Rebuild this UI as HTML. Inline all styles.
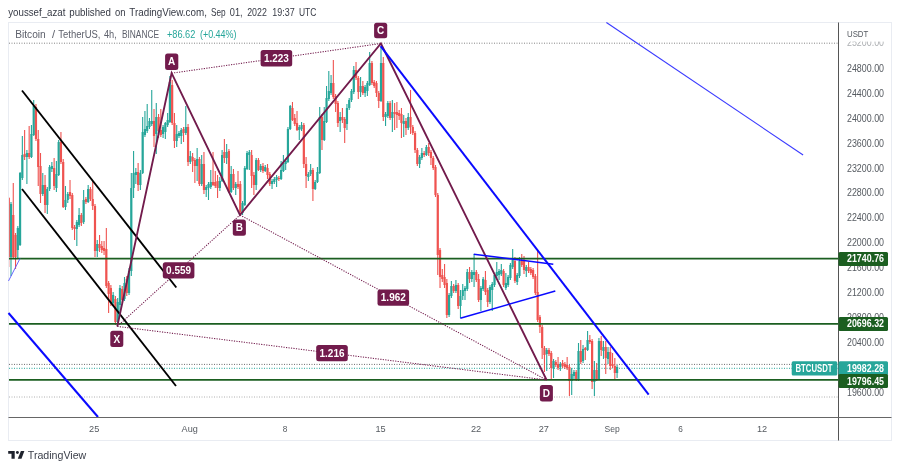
<!DOCTYPE html>
<html><head><meta charset="utf-8"><title>BTCUSDT chart</title>
<style>html,body{margin:0;padding:0;background:#fff}body{width:900px;height:470px;overflow:hidden}</style></head>
<body>
<svg width="900" height="470" viewBox="0 0 900 470" style="display:block;font-family:'Liberation Sans',sans-serif">
<rect width="900" height="470" fill="#fff"/>
<rect x="8.5" y="22.5" width="883" height="418" fill="#fff" stroke="#e9ecf2" stroke-width="1"/>
<text x="8.25" y="15.5" font-size="11" fill="#363a45" font-weight="normal" textLength="57.2" lengthAdjust="spacingAndGlyphs">youssef_azat</text>
<text x="69.3" y="15.5" font-size="11" fill="#363a45" font-weight="normal" textLength="41.6" lengthAdjust="spacingAndGlyphs">published</text>
<text x="115.1" y="15.5" font-size="11" fill="#363a45" font-weight="normal" textLength="10.5" lengthAdjust="spacingAndGlyphs">on</text>
<text x="129.3" y="15.5" font-size="11" fill="#363a45" font-weight="normal" textLength="77.6" lengthAdjust="spacingAndGlyphs">TradingView.com,</text>
<text x="210.9" y="15.5" font-size="11" fill="#363a45" font-weight="normal" textLength="14.7" lengthAdjust="spacingAndGlyphs">Sep</text>
<text x="229.8" y="15.5" font-size="11" fill="#363a45" font-weight="normal" textLength="12.8" lengthAdjust="spacingAndGlyphs">01,</text>
<text x="247.2" y="15.5" font-size="11" fill="#363a45" font-weight="normal" textLength="19.6" lengthAdjust="spacingAndGlyphs">2022</text>
<text x="272.3" y="15.5" font-size="11" fill="#363a45" font-weight="normal" textLength="22.4" lengthAdjust="spacingAndGlyphs">19:37</text>
<text x="298.9" y="15.5" font-size="11" fill="#363a45" font-weight="normal" textLength="17.4" lengthAdjust="spacingAndGlyphs">UTC</text>
<line x1="9" y1="43.2" x2="838" y2="43.2" stroke="#858585" stroke-width="1" stroke-dasharray="1 1.5" opacity="1"/>
<line x1="9" y1="364.4" x2="838" y2="364.4" stroke="#6a6a6a" stroke-width="1" stroke-dasharray="1 1.5" opacity="1"/>
<line x1="9" y1="368.3" x2="838" y2="368.3" stroke="#26a69a" stroke-width="1" stroke-dasharray="1 1.5" opacity="1"/>
<line x1="9" y1="397" x2="838" y2="397" stroke="#b0b0b0" stroke-width="1" stroke-dasharray="1 1.5" opacity="1"/>
<clipPath id="cc"><rect x="9" y="23" width="829" height="394"/></clipPath><g id="candles" clip-path="url(#cc)">
<line x1="8.73" y1="197.0" x2="8.73" y2="267.0" stroke="#ef5350" stroke-width="1.1"/>
<rect x="7.63" y="198.0" width="2.2" height="59.0" fill="#ef5350"/>
<line x1="11.00" y1="202.0" x2="11.00" y2="276.0" stroke="#26a69a" stroke-width="1.1"/>
<rect x="9.90" y="204.0" width="2.2" height="53.0" fill="#26a69a"/>
<line x1="13.27" y1="183.0" x2="13.27" y2="258.0" stroke="#ef5350" stroke-width="1.1"/>
<rect x="12.17" y="215.0" width="2.2" height="42.0" fill="#ef5350"/>
<line x1="15.54" y1="233.0" x2="15.54" y2="269.0" stroke="#ef5350" stroke-width="1.1"/>
<rect x="14.44" y="235.0" width="2.2" height="22.0" fill="#ef5350"/>
<line x1="17.81" y1="226.0" x2="17.81" y2="259.0" stroke="#26a69a" stroke-width="1.1"/>
<rect x="16.71" y="228.0" width="2.2" height="22.0" fill="#26a69a"/>
<line x1="20.08" y1="172.0" x2="20.08" y2="246.0" stroke="#26a69a" stroke-width="1.1"/>
<rect x="18.98" y="173.0" width="2.2" height="72.0" fill="#26a69a"/>
<line x1="22.35" y1="136.0" x2="22.35" y2="180.0" stroke="#26a69a" stroke-width="1.1"/>
<rect x="21.25" y="155.0" width="2.2" height="23.0" fill="#26a69a"/>
<line x1="24.62" y1="130.0" x2="24.62" y2="160.0" stroke="#ef5350" stroke-width="1.1"/>
<rect x="23.52" y="154.0" width="2.2" height="3.0" fill="#ef5350"/>
<line x1="26.89" y1="150.0" x2="26.89" y2="184.0" stroke="#26a69a" stroke-width="1.1"/>
<rect x="25.79" y="153.0" width="2.2" height="4.0" fill="#26a69a"/>
<line x1="29.16" y1="126.0" x2="29.16" y2="159.0" stroke="#ef5350" stroke-width="1.1"/>
<rect x="28.06" y="153.0" width="2.2" height="4.0" fill="#ef5350"/>
<line x1="31.43" y1="125.0" x2="31.43" y2="158.0" stroke="#26a69a" stroke-width="1.1"/>
<rect x="30.33" y="134.0" width="2.2" height="23.0" fill="#26a69a"/>
<line x1="33.70" y1="100.0" x2="33.70" y2="136.0" stroke="#26a69a" stroke-width="1.1"/>
<rect x="32.60" y="106.0" width="2.2" height="29.0" fill="#26a69a"/>
<line x1="35.97" y1="104.0" x2="35.97" y2="141.0" stroke="#ef5350" stroke-width="1.1"/>
<rect x="34.87" y="107.0" width="2.2" height="32.0" fill="#ef5350"/>
<line x1="38.24" y1="130.0" x2="38.24" y2="186.0" stroke="#ef5350" stroke-width="1.1"/>
<rect x="37.14" y="139.0" width="2.2" height="28.0" fill="#ef5350"/>
<line x1="40.51" y1="153.0" x2="40.51" y2="203.0" stroke="#ef5350" stroke-width="1.1"/>
<rect x="39.41" y="166.0" width="2.2" height="28.0" fill="#ef5350"/>
<line x1="42.78" y1="173.0" x2="42.78" y2="196.0" stroke="#26a69a" stroke-width="1.1"/>
<rect x="41.68" y="185.0" width="2.2" height="9.0" fill="#26a69a"/>
<line x1="45.05" y1="175.0" x2="45.05" y2="213.0" stroke="#ef5350" stroke-width="1.1"/>
<rect x="43.95" y="185.0" width="2.2" height="20.0" fill="#ef5350"/>
<line x1="47.32" y1="187.0" x2="47.32" y2="214.0" stroke="#26a69a" stroke-width="1.1"/>
<rect x="46.22" y="189.0" width="2.2" height="16.0" fill="#26a69a"/>
<line x1="49.59" y1="165.0" x2="49.59" y2="191.0" stroke="#26a69a" stroke-width="1.1"/>
<rect x="48.49" y="167.0" width="2.2" height="22.0" fill="#26a69a"/>
<line x1="51.86" y1="162.0" x2="51.86" y2="172.0" stroke="#26a69a" stroke-width="1.1"/>
<rect x="50.76" y="166.0" width="2.2" height="3.0" fill="#26a69a"/>
<line x1="54.13" y1="158.0" x2="54.13" y2="190.0" stroke="#ef5350" stroke-width="1.1"/>
<rect x="53.03" y="168.0" width="2.2" height="18.0" fill="#ef5350"/>
<line x1="56.40" y1="161.0" x2="56.40" y2="192.0" stroke="#26a69a" stroke-width="1.1"/>
<rect x="55.30" y="174.0" width="2.2" height="14.0" fill="#26a69a"/>
<line x1="58.67" y1="140.0" x2="58.67" y2="176.0" stroke="#26a69a" stroke-width="1.1"/>
<rect x="57.57" y="142.0" width="2.2" height="33.0" fill="#26a69a"/>
<line x1="60.94" y1="132.0" x2="60.94" y2="164.0" stroke="#ef5350" stroke-width="1.1"/>
<rect x="59.84" y="142.0" width="2.2" height="20.0" fill="#ef5350"/>
<line x1="63.21" y1="159.0" x2="63.21" y2="208.0" stroke="#ef5350" stroke-width="1.1"/>
<rect x="62.11" y="162.0" width="2.2" height="45.0" fill="#ef5350"/>
<line x1="65.48" y1="186.0" x2="65.48" y2="210.0" stroke="#26a69a" stroke-width="1.1"/>
<rect x="64.38" y="200.0" width="2.2" height="7.0" fill="#26a69a"/>
<line x1="67.75" y1="192.0" x2="67.75" y2="203.0" stroke="#26a69a" stroke-width="1.1"/>
<rect x="66.65" y="194.0" width="2.2" height="6.0" fill="#26a69a"/>
<line x1="70.02" y1="180.0" x2="70.02" y2="199.0" stroke="#ef5350" stroke-width="1.1"/>
<rect x="68.92" y="192.0" width="2.2" height="4.0" fill="#ef5350"/>
<line x1="72.29" y1="193.0" x2="72.29" y2="230.0" stroke="#ef5350" stroke-width="1.1"/>
<rect x="71.19" y="195.0" width="2.2" height="33.0" fill="#ef5350"/>
<line x1="74.56" y1="225.0" x2="74.56" y2="240.0" stroke="#ef5350" stroke-width="1.1"/>
<rect x="73.46" y="227.0" width="2.2" height="2.0" fill="#ef5350"/>
<line x1="76.83" y1="220.0" x2="76.83" y2="246.0" stroke="#26a69a" stroke-width="1.1"/>
<rect x="75.73" y="222.0" width="2.2" height="7.0" fill="#26a69a"/>
<line x1="79.10" y1="208.0" x2="79.10" y2="227.0" stroke="#26a69a" stroke-width="1.1"/>
<rect x="78.00" y="215.0" width="2.2" height="10.0" fill="#26a69a"/>
<line x1="81.37" y1="213.0" x2="81.37" y2="226.0" stroke="#ef5350" stroke-width="1.1"/>
<rect x="80.27" y="215.0" width="2.2" height="8.0" fill="#ef5350"/>
<line x1="83.64" y1="190.0" x2="83.64" y2="224.0" stroke="#26a69a" stroke-width="1.1"/>
<rect x="82.54" y="200.0" width="2.2" height="22.0" fill="#26a69a"/>
<line x1="85.91" y1="197.0" x2="85.91" y2="204.0" stroke="#ef5350" stroke-width="1.1"/>
<rect x="84.81" y="199.0" width="2.2" height="3.0" fill="#ef5350"/>
<line x1="88.18" y1="185.0" x2="88.18" y2="203.0" stroke="#26a69a" stroke-width="1.1"/>
<rect x="87.08" y="189.0" width="2.2" height="13.0" fill="#26a69a"/>
<line x1="90.45" y1="187.0" x2="90.45" y2="201.0" stroke="#ef5350" stroke-width="1.1"/>
<rect x="89.35" y="189.0" width="2.2" height="10.0" fill="#ef5350"/>
<line x1="92.72" y1="181.0" x2="92.72" y2="210.0" stroke="#ef5350" stroke-width="1.1"/>
<rect x="91.62" y="199.0" width="2.2" height="7.0" fill="#ef5350"/>
<line x1="94.99" y1="204.0" x2="94.99" y2="257.0" stroke="#ef5350" stroke-width="1.1"/>
<rect x="93.89" y="206.0" width="2.2" height="45.0" fill="#ef5350"/>
<line x1="97.26" y1="240.0" x2="97.26" y2="257.0" stroke="#26a69a" stroke-width="1.1"/>
<rect x="96.16" y="244.0" width="2.2" height="7.0" fill="#26a69a"/>
<line x1="99.53" y1="235.0" x2="99.53" y2="252.0" stroke="#ef5350" stroke-width="1.1"/>
<rect x="98.43" y="244.0" width="2.2" height="4.0" fill="#ef5350"/>
<line x1="101.80" y1="241.0" x2="101.80" y2="253.0" stroke="#ef5350" stroke-width="1.1"/>
<rect x="100.70" y="246.0" width="2.2" height="4.0" fill="#ef5350"/>
<line x1="104.07" y1="241.0" x2="104.07" y2="255.0" stroke="#ef5350" stroke-width="1.1"/>
<rect x="102.97" y="248.0" width="2.2" height="3.0" fill="#ef5350"/>
<line x1="106.34" y1="228.0" x2="106.34" y2="288.0" stroke="#ef5350" stroke-width="1.1"/>
<rect x="105.24" y="249.0" width="2.2" height="37.0" fill="#ef5350"/>
<line x1="108.61" y1="281.0" x2="108.61" y2="313.0" stroke="#ef5350" stroke-width="1.1"/>
<rect x="107.51" y="283.0" width="2.2" height="11.0" fill="#ef5350"/>
<line x1="110.88" y1="285.0" x2="110.88" y2="306.0" stroke="#ef5350" stroke-width="1.1"/>
<rect x="109.78" y="288.0" width="2.2" height="15.0" fill="#ef5350"/>
<line x1="113.15" y1="292.0" x2="113.15" y2="306.0" stroke="#26a69a" stroke-width="1.1"/>
<rect x="112.05" y="295.0" width="2.2" height="8.0" fill="#26a69a"/>
<line x1="115.42" y1="296.0" x2="115.42" y2="325.0" stroke="#ef5350" stroke-width="1.1"/>
<rect x="114.32" y="299.0" width="2.2" height="23.0" fill="#ef5350"/>
<line x1="117.69" y1="298.0" x2="117.69" y2="324.0" stroke="#26a69a" stroke-width="1.1"/>
<rect x="116.59" y="302.0" width="2.2" height="20.0" fill="#26a69a"/>
<line x1="119.96" y1="285.0" x2="119.96" y2="313.0" stroke="#26a69a" stroke-width="1.1"/>
<rect x="118.86" y="288.0" width="2.2" height="17.0" fill="#26a69a"/>
<line x1="122.23" y1="286.0" x2="122.23" y2="303.0" stroke="#ef5350" stroke-width="1.1"/>
<rect x="121.13" y="289.0" width="2.2" height="11.0" fill="#ef5350"/>
<line x1="124.50" y1="277.0" x2="124.50" y2="301.0" stroke="#26a69a" stroke-width="1.1"/>
<rect x="123.40" y="283.0" width="2.2" height="16.0" fill="#26a69a"/>
<line x1="126.77" y1="276.0" x2="126.77" y2="296.0" stroke="#ef5350" stroke-width="1.1"/>
<rect x="125.67" y="279.0" width="2.2" height="14.0" fill="#ef5350"/>
<line x1="129.04" y1="268.0" x2="129.04" y2="295.0" stroke="#26a69a" stroke-width="1.1"/>
<rect x="127.94" y="271.0" width="2.2" height="22.0" fill="#26a69a"/>
<line x1="131.31" y1="173.0" x2="131.31" y2="276.0" stroke="#26a69a" stroke-width="1.1"/>
<rect x="130.21" y="188.0" width="2.2" height="83.0" fill="#26a69a"/>
<line x1="133.58" y1="151.0" x2="133.58" y2="198.0" stroke="#26a69a" stroke-width="1.1"/>
<rect x="132.48" y="173.0" width="2.2" height="15.0" fill="#26a69a"/>
<line x1="135.85" y1="168.0" x2="135.85" y2="184.0" stroke="#26a69a" stroke-width="1.1"/>
<rect x="134.75" y="172.0" width="2.2" height="3.0" fill="#26a69a"/>
<line x1="138.12" y1="163.0" x2="138.12" y2="191.0" stroke="#ef5350" stroke-width="1.1"/>
<rect x="137.02" y="172.0" width="2.2" height="13.0" fill="#ef5350"/>
<line x1="140.39" y1="170.0" x2="140.39" y2="190.0" stroke="#26a69a" stroke-width="1.1"/>
<rect x="139.29" y="173.0" width="2.2" height="12.0" fill="#26a69a"/>
<line x1="142.66" y1="117.0" x2="142.66" y2="174.0" stroke="#26a69a" stroke-width="1.1"/>
<rect x="141.56" y="132.0" width="2.2" height="41.0" fill="#26a69a"/>
<line x1="144.93" y1="111.0" x2="144.93" y2="137.0" stroke="#26a69a" stroke-width="1.1"/>
<rect x="143.83" y="129.0" width="2.2" height="6.0" fill="#26a69a"/>
<line x1="147.20" y1="104.0" x2="147.20" y2="133.0" stroke="#26a69a" stroke-width="1.1"/>
<rect x="146.10" y="126.0" width="2.2" height="5.0" fill="#26a69a"/>
<line x1="149.47" y1="118.0" x2="149.47" y2="129.0" stroke="#26a69a" stroke-width="1.1"/>
<rect x="148.37" y="121.0" width="2.2" height="6.0" fill="#26a69a"/>
<line x1="151.74" y1="90.0" x2="151.74" y2="126.0" stroke="#26a69a" stroke-width="1.1"/>
<rect x="150.64" y="121.0" width="2.2" height="3.0" fill="#26a69a"/>
<line x1="154.01" y1="109.0" x2="154.01" y2="147.0" stroke="#ef5350" stroke-width="1.1"/>
<rect x="152.91" y="121.0" width="2.2" height="15.0" fill="#ef5350"/>
<line x1="156.28" y1="103.0" x2="156.28" y2="154.0" stroke="#26a69a" stroke-width="1.1"/>
<rect x="155.18" y="117.0" width="2.2" height="17.0" fill="#26a69a"/>
<line x1="158.55" y1="114.0" x2="158.55" y2="138.0" stroke="#ef5350" stroke-width="1.1"/>
<rect x="157.45" y="117.0" width="2.2" height="14.0" fill="#ef5350"/>
<line x1="160.82" y1="109.0" x2="160.82" y2="137.0" stroke="#ef5350" stroke-width="1.1"/>
<rect x="159.72" y="130.0" width="2.2" height="5.0" fill="#ef5350"/>
<line x1="163.09" y1="125.0" x2="163.09" y2="138.0" stroke="#26a69a" stroke-width="1.1"/>
<rect x="161.99" y="127.0" width="2.2" height="7.0" fill="#26a69a"/>
<line x1="165.36" y1="122.0" x2="165.36" y2="139.0" stroke="#26a69a" stroke-width="1.1"/>
<rect x="164.26" y="123.0" width="2.2" height="9.0" fill="#26a69a"/>
<line x1="167.63" y1="113.0" x2="167.63" y2="127.0" stroke="#26a69a" stroke-width="1.1"/>
<rect x="166.53" y="120.0" width="2.2" height="5.0" fill="#26a69a"/>
<line x1="169.90" y1="76.0" x2="169.90" y2="123.0" stroke="#26a69a" stroke-width="1.1"/>
<rect x="168.80" y="82.0" width="2.2" height="40.0" fill="#26a69a"/>
<line x1="172.17" y1="80.0" x2="172.17" y2="125.0" stroke="#ef5350" stroke-width="1.1"/>
<rect x="171.07" y="85.0" width="2.2" height="38.0" fill="#ef5350"/>
<line x1="174.44" y1="113.0" x2="174.44" y2="148.0" stroke="#ef5350" stroke-width="1.1"/>
<rect x="173.34" y="123.0" width="2.2" height="18.0" fill="#ef5350"/>
<line x1="176.71" y1="125.0" x2="176.71" y2="147.0" stroke="#26a69a" stroke-width="1.1"/>
<rect x="175.61" y="134.0" width="2.2" height="7.0" fill="#26a69a"/>
<line x1="178.98" y1="131.0" x2="178.98" y2="138.0" stroke="#26a69a" stroke-width="1.1"/>
<rect x="177.88" y="133.0" width="2.2" height="3.0" fill="#26a69a"/>
<line x1="181.25" y1="128.0" x2="181.25" y2="144.0" stroke="#26a69a" stroke-width="1.1"/>
<rect x="180.15" y="130.0" width="2.2" height="6.0" fill="#26a69a"/>
<line x1="183.52" y1="127.0" x2="183.52" y2="142.0" stroke="#ef5350" stroke-width="1.1"/>
<rect x="182.42" y="129.0" width="2.2" height="4.0" fill="#ef5350"/>
<line x1="185.79" y1="106.0" x2="185.79" y2="135.0" stroke="#26a69a" stroke-width="1.1"/>
<rect x="184.69" y="127.0" width="2.2" height="6.0" fill="#26a69a"/>
<line x1="188.06" y1="124.0" x2="188.06" y2="166.0" stroke="#ef5350" stroke-width="1.1"/>
<rect x="186.96" y="127.0" width="2.2" height="35.0" fill="#ef5350"/>
<line x1="190.33" y1="151.0" x2="190.33" y2="164.0" stroke="#26a69a" stroke-width="1.1"/>
<rect x="189.23" y="156.0" width="2.2" height="6.0" fill="#26a69a"/>
<line x1="192.60" y1="153.0" x2="192.60" y2="172.0" stroke="#ef5350" stroke-width="1.1"/>
<rect x="191.50" y="157.0" width="2.2" height="4.0" fill="#ef5350"/>
<line x1="194.87" y1="158.0" x2="194.87" y2="183.0" stroke="#ef5350" stroke-width="1.1"/>
<rect x="193.77" y="160.0" width="2.2" height="6.0" fill="#ef5350"/>
<line x1="197.14" y1="148.0" x2="197.14" y2="181.0" stroke="#26a69a" stroke-width="1.1"/>
<rect x="196.04" y="159.0" width="2.2" height="7.0" fill="#26a69a"/>
<line x1="199.41" y1="157.0" x2="199.41" y2="186.0" stroke="#ef5350" stroke-width="1.1"/>
<rect x="198.31" y="159.0" width="2.2" height="25.0" fill="#ef5350"/>
<line x1="201.68" y1="155.0" x2="201.68" y2="186.0" stroke="#26a69a" stroke-width="1.1"/>
<rect x="200.58" y="164.0" width="2.2" height="20.0" fill="#26a69a"/>
<line x1="203.95" y1="152.0" x2="203.95" y2="194.0" stroke="#ef5350" stroke-width="1.1"/>
<rect x="202.85" y="164.0" width="2.2" height="26.0" fill="#ef5350"/>
<line x1="206.22" y1="185.0" x2="206.22" y2="197.0" stroke="#26a69a" stroke-width="1.1"/>
<rect x="205.12" y="187.0" width="2.2" height="3.0" fill="#26a69a"/>
<line x1="208.49" y1="182.0" x2="208.49" y2="200.0" stroke="#26a69a" stroke-width="1.1"/>
<rect x="207.39" y="184.0" width="2.2" height="4.0" fill="#26a69a"/>
<line x1="210.76" y1="170.0" x2="210.76" y2="189.0" stroke="#26a69a" stroke-width="1.1"/>
<rect x="209.66" y="182.0" width="2.2" height="5.0" fill="#26a69a"/>
<line x1="213.03" y1="152.0" x2="213.03" y2="186.0" stroke="#ef5350" stroke-width="1.1"/>
<rect x="211.93" y="182.0" width="2.2" height="3.0" fill="#ef5350"/>
<line x1="215.30" y1="171.0" x2="215.30" y2="188.0" stroke="#ef5350" stroke-width="1.1"/>
<rect x="214.20" y="182.0" width="2.2" height="4.0" fill="#ef5350"/>
<line x1="217.57" y1="175.0" x2="217.57" y2="198.0" stroke="#ef5350" stroke-width="1.1"/>
<rect x="216.47" y="181.0" width="2.2" height="7.0" fill="#ef5350"/>
<line x1="219.84" y1="177.0" x2="219.84" y2="191.0" stroke="#26a69a" stroke-width="1.1"/>
<rect x="218.74" y="181.0" width="2.2" height="7.0" fill="#26a69a"/>
<line x1="222.11" y1="150.0" x2="222.11" y2="182.0" stroke="#26a69a" stroke-width="1.1"/>
<rect x="221.01" y="155.0" width="2.2" height="26.0" fill="#26a69a"/>
<line x1="224.38" y1="139.0" x2="224.38" y2="163.0" stroke="#ef5350" stroke-width="1.1"/>
<rect x="223.28" y="152.0" width="2.2" height="6.0" fill="#ef5350"/>
<line x1="226.65" y1="144.0" x2="226.65" y2="164.0" stroke="#26a69a" stroke-width="1.1"/>
<rect x="225.55" y="152.0" width="2.2" height="6.0" fill="#26a69a"/>
<line x1="228.92" y1="149.0" x2="228.92" y2="193.0" stroke="#ef5350" stroke-width="1.1"/>
<rect x="227.82" y="151.0" width="2.2" height="41.0" fill="#ef5350"/>
<line x1="231.19" y1="166.0" x2="231.19" y2="193.0" stroke="#26a69a" stroke-width="1.1"/>
<rect x="230.09" y="174.0" width="2.2" height="18.0" fill="#26a69a"/>
<line x1="233.46" y1="169.0" x2="233.46" y2="190.0" stroke="#ef5350" stroke-width="1.1"/>
<rect x="232.36" y="174.0" width="2.2" height="14.0" fill="#ef5350"/>
<line x1="235.73" y1="182.0" x2="235.73" y2="195.0" stroke="#26a69a" stroke-width="1.1"/>
<rect x="234.63" y="184.0" width="2.2" height="4.0" fill="#26a69a"/>
<line x1="238.00" y1="171.0" x2="238.00" y2="189.0" stroke="#ef5350" stroke-width="1.1"/>
<rect x="236.90" y="184.0" width="2.2" height="3.0" fill="#ef5350"/>
<line x1="240.27" y1="181.0" x2="240.27" y2="215.0" stroke="#ef5350" stroke-width="1.1"/>
<rect x="239.17" y="184.0" width="2.2" height="28.0" fill="#ef5350"/>
<line x1="242.54" y1="201.0" x2="242.54" y2="215.0" stroke="#26a69a" stroke-width="1.1"/>
<rect x="241.44" y="203.0" width="2.2" height="10.0" fill="#26a69a"/>
<line x1="244.81" y1="166.0" x2="244.81" y2="206.0" stroke="#26a69a" stroke-width="1.1"/>
<rect x="243.71" y="168.0" width="2.2" height="37.0" fill="#26a69a"/>
<line x1="247.08" y1="151.0" x2="247.08" y2="170.0" stroke="#26a69a" stroke-width="1.1"/>
<rect x="245.98" y="153.0" width="2.2" height="16.0" fill="#26a69a"/>
<line x1="249.35" y1="150.0" x2="249.35" y2="170.0" stroke="#26a69a" stroke-width="1.1"/>
<rect x="248.25" y="152.0" width="2.2" height="3.0" fill="#26a69a"/>
<line x1="251.62" y1="150.0" x2="251.62" y2="188.0" stroke="#ef5350" stroke-width="1.1"/>
<rect x="250.52" y="155.0" width="2.2" height="21.0" fill="#ef5350"/>
<line x1="253.89" y1="172.0" x2="253.89" y2="195.0" stroke="#ef5350" stroke-width="1.1"/>
<rect x="252.79" y="175.0" width="2.2" height="10.0" fill="#ef5350"/>
<line x1="256.16" y1="158.0" x2="256.16" y2="190.0" stroke="#26a69a" stroke-width="1.1"/>
<rect x="255.06" y="160.0" width="2.2" height="25.0" fill="#26a69a"/>
<line x1="258.43" y1="158.0" x2="258.43" y2="171.0" stroke="#ef5350" stroke-width="1.1"/>
<rect x="257.33" y="160.0" width="2.2" height="10.0" fill="#ef5350"/>
<line x1="260.70" y1="164.0" x2="260.70" y2="172.0" stroke="#26a69a" stroke-width="1.1"/>
<rect x="259.60" y="166.0" width="2.2" height="4.0" fill="#26a69a"/>
<line x1="262.97" y1="163.0" x2="262.97" y2="173.0" stroke="#ef5350" stroke-width="1.1"/>
<rect x="261.87" y="166.0" width="2.2" height="5.0" fill="#ef5350"/>
<line x1="265.24" y1="165.0" x2="265.24" y2="172.0" stroke="#26a69a" stroke-width="1.1"/>
<rect x="264.14" y="167.0" width="2.2" height="4.0" fill="#26a69a"/>
<line x1="267.51" y1="164.0" x2="267.51" y2="179.0" stroke="#ef5350" stroke-width="1.1"/>
<rect x="266.41" y="168.0" width="2.2" height="7.0" fill="#ef5350"/>
<line x1="269.78" y1="172.0" x2="269.78" y2="186.0" stroke="#ef5350" stroke-width="1.1"/>
<rect x="268.68" y="174.0" width="2.2" height="10.0" fill="#ef5350"/>
<line x1="272.05" y1="179.0" x2="272.05" y2="189.0" stroke="#26a69a" stroke-width="1.1"/>
<rect x="270.95" y="181.0" width="2.2" height="3.0" fill="#26a69a"/>
<line x1="274.32" y1="177.0" x2="274.32" y2="184.0" stroke="#26a69a" stroke-width="1.1"/>
<rect x="273.22" y="179.0" width="2.2" height="3.0" fill="#26a69a"/>
<line x1="276.59" y1="175.0" x2="276.59" y2="187.0" stroke="#26a69a" stroke-width="1.1"/>
<rect x="275.49" y="177.0" width="2.2" height="3.0" fill="#26a69a"/>
<line x1="278.86" y1="176.0" x2="278.86" y2="181.0" stroke="#ef5350" stroke-width="1.1"/>
<rect x="277.76" y="178.0" width="2.2" height="1.0" fill="#ef5350"/>
<line x1="281.13" y1="161.0" x2="281.13" y2="180.0" stroke="#26a69a" stroke-width="1.1"/>
<rect x="280.03" y="170.0" width="2.2" height="9.0" fill="#26a69a"/>
<line x1="283.40" y1="155.0" x2="283.40" y2="172.0" stroke="#26a69a" stroke-width="1.1"/>
<rect x="282.30" y="163.0" width="2.2" height="8.0" fill="#26a69a"/>
<line x1="285.67" y1="159.0" x2="285.67" y2="170.0" stroke="#26a69a" stroke-width="1.1"/>
<rect x="284.57" y="161.0" width="2.2" height="3.0" fill="#26a69a"/>
<line x1="287.94" y1="127.0" x2="287.94" y2="163.0" stroke="#26a69a" stroke-width="1.1"/>
<rect x="286.84" y="129.0" width="2.2" height="33.0" fill="#26a69a"/>
<line x1="290.21" y1="105.0" x2="290.21" y2="130.0" stroke="#26a69a" stroke-width="1.1"/>
<rect x="289.11" y="106.0" width="2.2" height="23.0" fill="#26a69a"/>
<line x1="292.48" y1="102.0" x2="292.48" y2="121.0" stroke="#ef5350" stroke-width="1.1"/>
<rect x="291.38" y="108.0" width="2.2" height="12.0" fill="#ef5350"/>
<line x1="294.75" y1="114.0" x2="294.75" y2="126.0" stroke="#ef5350" stroke-width="1.1"/>
<rect x="293.65" y="118.0" width="2.2" height="6.0" fill="#ef5350"/>
<line x1="297.02" y1="111.0" x2="297.02" y2="131.0" stroke="#ef5350" stroke-width="1.1"/>
<rect x="295.92" y="123.0" width="2.2" height="7.0" fill="#ef5350"/>
<line x1="299.29" y1="125.0" x2="299.29" y2="140.0" stroke="#26a69a" stroke-width="1.1"/>
<rect x="298.19" y="127.0" width="2.2" height="3.0" fill="#26a69a"/>
<line x1="301.56" y1="122.0" x2="301.56" y2="131.0" stroke="#26a69a" stroke-width="1.1"/>
<rect x="300.46" y="125.0" width="2.2" height="4.0" fill="#26a69a"/>
<line x1="303.83" y1="123.0" x2="303.83" y2="168.0" stroke="#ef5350" stroke-width="1.1"/>
<rect x="302.73" y="125.0" width="2.2" height="39.0" fill="#ef5350"/>
<line x1="306.10" y1="157.0" x2="306.10" y2="188.0" stroke="#ef5350" stroke-width="1.1"/>
<rect x="305.00" y="164.0" width="2.2" height="12.0" fill="#ef5350"/>
<line x1="308.37" y1="172.0" x2="308.37" y2="181.0" stroke="#26a69a" stroke-width="1.1"/>
<rect x="307.27" y="174.0" width="2.2" height="3.0" fill="#26a69a"/>
<line x1="310.64" y1="164.0" x2="310.64" y2="176.0" stroke="#26a69a" stroke-width="1.1"/>
<rect x="309.54" y="170.0" width="2.2" height="4.0" fill="#26a69a"/>
<line x1="312.91" y1="168.0" x2="312.91" y2="201.0" stroke="#ef5350" stroke-width="1.1"/>
<rect x="311.81" y="170.0" width="2.2" height="19.0" fill="#ef5350"/>
<line x1="315.18" y1="180.0" x2="315.18" y2="190.0" stroke="#26a69a" stroke-width="1.1"/>
<rect x="314.08" y="182.0" width="2.2" height="7.0" fill="#26a69a"/>
<line x1="317.45" y1="167.0" x2="317.45" y2="183.0" stroke="#26a69a" stroke-width="1.1"/>
<rect x="316.35" y="172.0" width="2.2" height="10.0" fill="#26a69a"/>
<line x1="319.72" y1="107.0" x2="319.72" y2="174.0" stroke="#26a69a" stroke-width="1.1"/>
<rect x="318.62" y="117.0" width="2.2" height="56.0" fill="#26a69a"/>
<line x1="321.99" y1="114.0" x2="321.99" y2="150.0" stroke="#ef5350" stroke-width="1.1"/>
<rect x="320.89" y="117.0" width="2.2" height="23.0" fill="#ef5350"/>
<line x1="324.26" y1="107.0" x2="324.26" y2="141.0" stroke="#26a69a" stroke-width="1.1"/>
<rect x="323.16" y="121.0" width="2.2" height="19.0" fill="#26a69a"/>
<line x1="326.53" y1="86.0" x2="326.53" y2="123.0" stroke="#26a69a" stroke-width="1.1"/>
<rect x="325.43" y="98.0" width="2.2" height="24.0" fill="#26a69a"/>
<line x1="328.80" y1="71.0" x2="328.80" y2="101.0" stroke="#26a69a" stroke-width="1.1"/>
<rect x="327.70" y="91.0" width="2.2" height="8.0" fill="#26a69a"/>
<line x1="331.07" y1="75.0" x2="331.07" y2="95.0" stroke="#26a69a" stroke-width="1.1"/>
<rect x="329.97" y="83.0" width="2.2" height="10.0" fill="#26a69a"/>
<line x1="333.34" y1="60.0" x2="333.34" y2="99.0" stroke="#ef5350" stroke-width="1.1"/>
<rect x="332.24" y="83.0" width="2.2" height="14.0" fill="#ef5350"/>
<line x1="335.61" y1="94.0" x2="335.61" y2="112.0" stroke="#ef5350" stroke-width="1.1"/>
<rect x="334.51" y="96.0" width="2.2" height="8.0" fill="#ef5350"/>
<line x1="337.88" y1="101.0" x2="337.88" y2="127.0" stroke="#ef5350" stroke-width="1.1"/>
<rect x="336.78" y="103.0" width="2.2" height="20.0" fill="#ef5350"/>
<line x1="340.15" y1="112.0" x2="340.15" y2="132.0" stroke="#26a69a" stroke-width="1.1"/>
<rect x="339.05" y="117.0" width="2.2" height="4.0" fill="#26a69a"/>
<line x1="342.42" y1="108.0" x2="342.42" y2="123.0" stroke="#ef5350" stroke-width="1.1"/>
<rect x="341.32" y="117.0" width="2.2" height="3.0" fill="#ef5350"/>
<line x1="344.69" y1="117.0" x2="344.69" y2="143.0" stroke="#ef5350" stroke-width="1.1"/>
<rect x="343.59" y="119.0" width="2.2" height="9.0" fill="#ef5350"/>
<line x1="346.96" y1="104.0" x2="346.96" y2="130.0" stroke="#26a69a" stroke-width="1.1"/>
<rect x="345.86" y="108.0" width="2.2" height="16.0" fill="#26a69a"/>
<line x1="349.23" y1="98.0" x2="349.23" y2="110.0" stroke="#26a69a" stroke-width="1.1"/>
<rect x="348.13" y="100.0" width="2.2" height="8.0" fill="#26a69a"/>
<line x1="351.50" y1="89.0" x2="351.50" y2="102.0" stroke="#26a69a" stroke-width="1.1"/>
<rect x="350.40" y="91.0" width="2.2" height="9.0" fill="#26a69a"/>
<line x1="353.77" y1="66.0" x2="353.77" y2="94.0" stroke="#26a69a" stroke-width="1.1"/>
<rect x="352.67" y="70.0" width="2.2" height="22.0" fill="#26a69a"/>
<line x1="356.04" y1="62.0" x2="356.04" y2="80.0" stroke="#ef5350" stroke-width="1.1"/>
<rect x="354.94" y="70.0" width="2.2" height="8.0" fill="#ef5350"/>
<line x1="358.31" y1="76.0" x2="358.31" y2="99.0" stroke="#ef5350" stroke-width="1.1"/>
<rect x="357.21" y="78.0" width="2.2" height="14.0" fill="#ef5350"/>
<line x1="360.58" y1="77.0" x2="360.58" y2="97.0" stroke="#26a69a" stroke-width="1.1"/>
<rect x="359.48" y="86.0" width="2.2" height="6.0" fill="#26a69a"/>
<line x1="362.85" y1="81.0" x2="362.85" y2="95.0" stroke="#ef5350" stroke-width="1.1"/>
<rect x="361.75" y="86.0" width="2.2" height="7.0" fill="#ef5350"/>
<line x1="365.12" y1="85.0" x2="365.12" y2="97.0" stroke="#26a69a" stroke-width="1.1"/>
<rect x="364.02" y="87.0" width="2.2" height="6.0" fill="#26a69a"/>
<line x1="367.39" y1="81.0" x2="367.39" y2="96.0" stroke="#26a69a" stroke-width="1.1"/>
<rect x="366.29" y="83.0" width="2.2" height="8.0" fill="#26a69a"/>
<line x1="369.66" y1="52.0" x2="369.66" y2="86.0" stroke="#26a69a" stroke-width="1.1"/>
<rect x="368.56" y="63.0" width="2.2" height="22.0" fill="#26a69a"/>
<line x1="371.93" y1="61.0" x2="371.93" y2="85.0" stroke="#ef5350" stroke-width="1.1"/>
<rect x="370.83" y="63.0" width="2.2" height="20.0" fill="#ef5350"/>
<line x1="374.20" y1="80.0" x2="374.20" y2="88.0" stroke="#ef5350" stroke-width="1.1"/>
<rect x="373.10" y="82.0" width="2.2" height="4.0" fill="#ef5350"/>
<line x1="376.47" y1="81.0" x2="376.47" y2="97.0" stroke="#ef5350" stroke-width="1.1"/>
<rect x="375.37" y="83.0" width="2.2" height="10.0" fill="#ef5350"/>
<line x1="378.74" y1="91.0" x2="378.74" y2="108.0" stroke="#ef5350" stroke-width="1.1"/>
<rect x="377.64" y="93.0" width="2.2" height="8.0" fill="#ef5350"/>
<line x1="381.01" y1="47.0" x2="381.01" y2="102.0" stroke="#26a69a" stroke-width="1.1"/>
<rect x="379.91" y="63.0" width="2.2" height="38.0" fill="#26a69a"/>
<line x1="383.28" y1="57.0" x2="383.28" y2="121.0" stroke="#ef5350" stroke-width="1.1"/>
<rect x="382.18" y="63.0" width="2.2" height="54.0" fill="#ef5350"/>
<line x1="385.55" y1="112.0" x2="385.55" y2="126.0" stroke="#26a69a" stroke-width="1.1"/>
<rect x="384.45" y="114.0" width="2.2" height="3.0" fill="#26a69a"/>
<line x1="387.82" y1="101.0" x2="387.82" y2="118.0" stroke="#26a69a" stroke-width="1.1"/>
<rect x="386.72" y="103.0" width="2.2" height="13.0" fill="#26a69a"/>
<line x1="390.09" y1="101.0" x2="390.09" y2="120.0" stroke="#ef5350" stroke-width="1.1"/>
<rect x="388.99" y="103.0" width="2.2" height="15.0" fill="#ef5350"/>
<line x1="392.36" y1="100.0" x2="392.36" y2="132.0" stroke="#26a69a" stroke-width="1.1"/>
<rect x="391.26" y="112.0" width="2.2" height="6.0" fill="#26a69a"/>
<line x1="394.63" y1="103.0" x2="394.63" y2="130.0" stroke="#ef5350" stroke-width="1.1"/>
<rect x="393.53" y="112.0" width="2.2" height="2.0" fill="#ef5350"/>
<line x1="396.90" y1="102.0" x2="396.90" y2="128.0" stroke="#ef5350" stroke-width="1.1"/>
<rect x="395.80" y="112.0" width="2.2" height="3.0" fill="#ef5350"/>
<line x1="399.17" y1="110.0" x2="399.17" y2="120.0" stroke="#ef5350" stroke-width="1.1"/>
<rect x="398.07" y="113.0" width="2.2" height="3.0" fill="#ef5350"/>
<line x1="401.44" y1="108.0" x2="401.44" y2="138.0" stroke="#ef5350" stroke-width="1.1"/>
<rect x="400.34" y="114.0" width="2.2" height="9.0" fill="#ef5350"/>
<line x1="403.71" y1="115.0" x2="403.71" y2="137.0" stroke="#26a69a" stroke-width="1.1"/>
<rect x="402.61" y="121.0" width="2.2" height="3.0" fill="#26a69a"/>
<line x1="405.98" y1="118.0" x2="405.98" y2="135.0" stroke="#ef5350" stroke-width="1.1"/>
<rect x="404.88" y="121.0" width="2.2" height="7.0" fill="#ef5350"/>
<line x1="408.25" y1="113.0" x2="408.25" y2="130.0" stroke="#26a69a" stroke-width="1.1"/>
<rect x="407.15" y="117.0" width="2.2" height="11.0" fill="#26a69a"/>
<line x1="410.52" y1="90.0" x2="410.52" y2="134.0" stroke="#ef5350" stroke-width="1.1"/>
<rect x="409.42" y="117.0" width="2.2" height="10.0" fill="#ef5350"/>
<line x1="412.79" y1="125.0" x2="412.79" y2="135.0" stroke="#ef5350" stroke-width="1.1"/>
<rect x="411.69" y="127.0" width="2.2" height="6.0" fill="#ef5350"/>
<line x1="415.06" y1="131.0" x2="415.06" y2="153.0" stroke="#ef5350" stroke-width="1.1"/>
<rect x="413.96" y="133.0" width="2.2" height="17.0" fill="#ef5350"/>
<line x1="417.33" y1="148.0" x2="417.33" y2="166.0" stroke="#ef5350" stroke-width="1.1"/>
<rect x="416.23" y="150.0" width="2.2" height="14.0" fill="#ef5350"/>
<line x1="419.60" y1="155.0" x2="419.60" y2="168.0" stroke="#26a69a" stroke-width="1.1"/>
<rect x="418.50" y="157.0" width="2.2" height="7.0" fill="#26a69a"/>
<line x1="421.87" y1="148.0" x2="421.87" y2="160.0" stroke="#26a69a" stroke-width="1.1"/>
<rect x="420.77" y="153.0" width="2.2" height="5.0" fill="#26a69a"/>
<line x1="424.14" y1="151.0" x2="424.14" y2="157.0" stroke="#ef5350" stroke-width="1.1"/>
<rect x="423.04" y="153.0" width="2.2" height="2.0" fill="#ef5350"/>
<line x1="426.41" y1="145.0" x2="426.41" y2="156.0" stroke="#26a69a" stroke-width="1.1"/>
<rect x="425.31" y="147.0" width="2.2" height="8.0" fill="#26a69a"/>
<line x1="428.68" y1="143.0" x2="428.68" y2="156.0" stroke="#ef5350" stroke-width="1.1"/>
<rect x="427.58" y="147.0" width="2.2" height="6.0" fill="#ef5350"/>
<line x1="430.95" y1="150.0" x2="430.95" y2="165.0" stroke="#ef5350" stroke-width="1.1"/>
<rect x="429.85" y="152.0" width="2.2" height="6.0" fill="#ef5350"/>
<line x1="433.22" y1="156.0" x2="433.22" y2="170.0" stroke="#ef5350" stroke-width="1.1"/>
<rect x="432.12" y="158.0" width="2.2" height="10.0" fill="#ef5350"/>
<line x1="435.49" y1="165.0" x2="435.49" y2="197.0" stroke="#ef5350" stroke-width="1.1"/>
<rect x="434.39" y="167.0" width="2.2" height="28.0" fill="#ef5350"/>
<line x1="437.76" y1="193.0" x2="437.76" y2="275.0" stroke="#ef5350" stroke-width="1.1"/>
<rect x="436.66" y="195.0" width="2.2" height="60.0" fill="#ef5350"/>
<line x1="440.03" y1="248.0" x2="440.03" y2="288.0" stroke="#ef5350" stroke-width="1.1"/>
<rect x="438.93" y="250.0" width="2.2" height="27.0" fill="#ef5350"/>
<line x1="442.30" y1="269.0" x2="442.30" y2="282.0" stroke="#ef5350" stroke-width="1.1"/>
<rect x="441.20" y="275.0" width="2.2" height="4.0" fill="#ef5350"/>
<line x1="444.57" y1="264.0" x2="444.57" y2="288.0" stroke="#ef5350" stroke-width="1.1"/>
<rect x="443.47" y="277.0" width="2.2" height="8.0" fill="#ef5350"/>
<line x1="446.84" y1="279.0" x2="446.84" y2="318.0" stroke="#ef5350" stroke-width="1.1"/>
<rect x="445.74" y="283.0" width="2.2" height="32.0" fill="#ef5350"/>
<line x1="449.11" y1="293.0" x2="449.11" y2="317.0" stroke="#26a69a" stroke-width="1.1"/>
<rect x="448.01" y="295.0" width="2.2" height="20.0" fill="#26a69a"/>
<line x1="451.38" y1="281.0" x2="451.38" y2="298.0" stroke="#26a69a" stroke-width="1.1"/>
<rect x="450.28" y="286.0" width="2.2" height="10.0" fill="#26a69a"/>
<line x1="453.65" y1="284.0" x2="453.65" y2="293.0" stroke="#ef5350" stroke-width="1.1"/>
<rect x="452.55" y="286.0" width="2.2" height="5.0" fill="#ef5350"/>
<line x1="455.92" y1="280.0" x2="455.92" y2="293.0" stroke="#26a69a" stroke-width="1.1"/>
<rect x="454.82" y="285.0" width="2.2" height="6.0" fill="#26a69a"/>
<line x1="458.19" y1="283.0" x2="458.19" y2="309.0" stroke="#ef5350" stroke-width="1.1"/>
<rect x="457.09" y="285.0" width="2.2" height="21.0" fill="#ef5350"/>
<line x1="460.46" y1="290.0" x2="460.46" y2="318.0" stroke="#26a69a" stroke-width="1.1"/>
<rect x="459.36" y="296.0" width="2.2" height="10.0" fill="#26a69a"/>
<line x1="462.73" y1="284.0" x2="462.73" y2="300.0" stroke="#26a69a" stroke-width="1.1"/>
<rect x="461.63" y="290.0" width="2.2" height="6.0" fill="#26a69a"/>
<line x1="465.00" y1="286.0" x2="465.00" y2="300.0" stroke="#26a69a" stroke-width="1.1"/>
<rect x="463.90" y="288.0" width="2.2" height="3.0" fill="#26a69a"/>
<line x1="467.27" y1="269.0" x2="467.27" y2="291.0" stroke="#26a69a" stroke-width="1.1"/>
<rect x="466.17" y="272.0" width="2.2" height="17.0" fill="#26a69a"/>
<line x1="469.54" y1="267.0" x2="469.54" y2="283.0" stroke="#ef5350" stroke-width="1.1"/>
<rect x="468.44" y="272.0" width="2.2" height="7.0" fill="#ef5350"/>
<line x1="471.81" y1="270.0" x2="471.81" y2="282.0" stroke="#26a69a" stroke-width="1.1"/>
<rect x="470.71" y="272.0" width="2.2" height="7.0" fill="#26a69a"/>
<line x1="474.08" y1="254.0" x2="474.08" y2="287.0" stroke="#26a69a" stroke-width="1.1"/>
<rect x="472.98" y="272.0" width="2.2" height="3.0" fill="#26a69a"/>
<line x1="476.35" y1="270.0" x2="476.35" y2="282.0" stroke="#ef5350" stroke-width="1.1"/>
<rect x="475.25" y="272.0" width="2.2" height="8.0" fill="#ef5350"/>
<line x1="478.62" y1="274.0" x2="478.62" y2="302.0" stroke="#ef5350" stroke-width="1.1"/>
<rect x="477.52" y="279.0" width="2.2" height="21.0" fill="#ef5350"/>
<line x1="480.89" y1="286.0" x2="480.89" y2="311.0" stroke="#26a69a" stroke-width="1.1"/>
<rect x="479.79" y="288.0" width="2.2" height="12.0" fill="#26a69a"/>
<line x1="483.16" y1="277.0" x2="483.16" y2="291.0" stroke="#26a69a" stroke-width="1.1"/>
<rect x="482.06" y="279.0" width="2.2" height="10.0" fill="#26a69a"/>
<line x1="485.43" y1="271.0" x2="485.43" y2="295.0" stroke="#ef5350" stroke-width="1.1"/>
<rect x="484.33" y="280.0" width="2.2" height="12.0" fill="#ef5350"/>
<line x1="487.70" y1="288.0" x2="487.70" y2="307.0" stroke="#ef5350" stroke-width="1.1"/>
<rect x="486.60" y="290.0" width="2.2" height="12.0" fill="#ef5350"/>
<line x1="489.97" y1="285.0" x2="489.97" y2="304.0" stroke="#26a69a" stroke-width="1.1"/>
<rect x="488.87" y="287.0" width="2.2" height="15.0" fill="#26a69a"/>
<line x1="492.24" y1="282.0" x2="492.24" y2="311.0" stroke="#26a69a" stroke-width="1.1"/>
<rect x="491.14" y="284.0" width="2.2" height="6.0" fill="#26a69a"/>
<line x1="494.51" y1="273.0" x2="494.51" y2="287.0" stroke="#26a69a" stroke-width="1.1"/>
<rect x="493.41" y="275.0" width="2.2" height="10.0" fill="#26a69a"/>
<line x1="496.78" y1="262.0" x2="496.78" y2="278.0" stroke="#26a69a" stroke-width="1.1"/>
<rect x="495.68" y="272.0" width="2.2" height="4.0" fill="#26a69a"/>
<line x1="499.05" y1="269.0" x2="499.05" y2="280.0" stroke="#26a69a" stroke-width="1.1"/>
<rect x="497.95" y="271.0" width="2.2" height="4.0" fill="#26a69a"/>
<line x1="501.32" y1="264.0" x2="501.32" y2="276.0" stroke="#26a69a" stroke-width="1.1"/>
<rect x="500.22" y="270.0" width="2.2" height="4.0" fill="#26a69a"/>
<line x1="503.59" y1="269.0" x2="503.59" y2="287.0" stroke="#ef5350" stroke-width="1.1"/>
<rect x="502.49" y="271.0" width="2.2" height="14.0" fill="#ef5350"/>
<line x1="505.86" y1="273.0" x2="505.86" y2="290.0" stroke="#26a69a" stroke-width="1.1"/>
<rect x="504.76" y="283.0" width="2.2" height="5.0" fill="#26a69a"/>
<line x1="508.13" y1="275.0" x2="508.13" y2="287.0" stroke="#26a69a" stroke-width="1.1"/>
<rect x="507.03" y="277.0" width="2.2" height="8.0" fill="#26a69a"/>
<line x1="510.40" y1="263.0" x2="510.40" y2="280.0" stroke="#26a69a" stroke-width="1.1"/>
<rect x="509.30" y="265.0" width="2.2" height="13.0" fill="#26a69a"/>
<line x1="512.67" y1="249.0" x2="512.67" y2="269.0" stroke="#26a69a" stroke-width="1.1"/>
<rect x="511.57" y="260.0" width="2.2" height="7.0" fill="#26a69a"/>
<line x1="514.94" y1="257.0" x2="514.94" y2="283.0" stroke="#ef5350" stroke-width="1.1"/>
<rect x="513.84" y="261.0" width="2.2" height="20.0" fill="#ef5350"/>
<line x1="517.21" y1="273.0" x2="517.21" y2="285.0" stroke="#26a69a" stroke-width="1.1"/>
<rect x="516.11" y="275.0" width="2.2" height="7.0" fill="#26a69a"/>
<line x1="519.48" y1="257.0" x2="519.48" y2="278.0" stroke="#26a69a" stroke-width="1.1"/>
<rect x="518.38" y="261.0" width="2.2" height="15.0" fill="#26a69a"/>
<line x1="521.75" y1="254.0" x2="521.75" y2="267.0" stroke="#ef5350" stroke-width="1.1"/>
<rect x="520.65" y="260.0" width="2.2" height="5.0" fill="#ef5350"/>
<line x1="524.02" y1="256.0" x2="524.02" y2="274.0" stroke="#ef5350" stroke-width="1.1"/>
<rect x="522.92" y="261.0" width="2.2" height="9.0" fill="#ef5350"/>
<line x1="526.29" y1="265.0" x2="526.29" y2="277.0" stroke="#26a69a" stroke-width="1.1"/>
<rect x="525.19" y="267.0" width="2.2" height="4.0" fill="#26a69a"/>
<line x1="528.56" y1="262.0" x2="528.56" y2="273.0" stroke="#ef5350" stroke-width="1.1"/>
<rect x="527.46" y="267.0" width="2.2" height="4.0" fill="#ef5350"/>
<line x1="530.83" y1="267.0" x2="530.83" y2="275.0" stroke="#ef5350" stroke-width="1.1"/>
<rect x="529.73" y="269.0" width="2.2" height="4.0" fill="#ef5350"/>
<line x1="533.10" y1="268.0" x2="533.10" y2="279.0" stroke="#ef5350" stroke-width="1.1"/>
<rect x="532.00" y="270.0" width="2.2" height="7.0" fill="#ef5350"/>
<line x1="535.37" y1="274.0" x2="535.37" y2="295.0" stroke="#ef5350" stroke-width="1.1"/>
<rect x="534.27" y="276.0" width="2.2" height="17.0" fill="#ef5350"/>
<line x1="537.64" y1="251.0" x2="537.64" y2="322.0" stroke="#ef5350" stroke-width="1.1"/>
<rect x="536.54" y="292.0" width="2.2" height="28.0" fill="#ef5350"/>
<line x1="539.91" y1="315.0" x2="539.91" y2="333.0" stroke="#ef5350" stroke-width="1.1"/>
<rect x="538.81" y="317.0" width="2.2" height="10.0" fill="#ef5350"/>
<line x1="542.18" y1="325.0" x2="542.18" y2="359.0" stroke="#ef5350" stroke-width="1.1"/>
<rect x="541.08" y="327.0" width="2.2" height="21.0" fill="#ef5350"/>
<line x1="544.45" y1="346.0" x2="544.45" y2="372.0" stroke="#ef5350" stroke-width="1.1"/>
<rect x="543.35" y="348.0" width="2.2" height="7.0" fill="#ef5350"/>
<line x1="546.72" y1="348.0" x2="546.72" y2="371.0" stroke="#26a69a" stroke-width="1.1"/>
<rect x="545.62" y="350.0" width="2.2" height="4.0" fill="#26a69a"/>
<line x1="548.99" y1="348.0" x2="548.99" y2="356.0" stroke="#ef5350" stroke-width="1.1"/>
<rect x="547.89" y="350.0" width="2.2" height="4.0" fill="#ef5350"/>
<line x1="551.26" y1="351.0" x2="551.26" y2="380.0" stroke="#ef5350" stroke-width="1.1"/>
<rect x="550.16" y="353.0" width="2.2" height="15.0" fill="#ef5350"/>
<line x1="553.53" y1="359.0" x2="553.53" y2="378.0" stroke="#26a69a" stroke-width="1.1"/>
<rect x="552.43" y="361.0" width="2.2" height="7.0" fill="#26a69a"/>
<line x1="555.80" y1="360.0" x2="555.80" y2="367.0" stroke="#ef5350" stroke-width="1.1"/>
<rect x="554.70" y="362.0" width="2.2" height="3.0" fill="#ef5350"/>
<line x1="558.07" y1="357.0" x2="558.07" y2="370.0" stroke="#ef5350" stroke-width="1.1"/>
<rect x="556.97" y="364.0" width="2.2" height="4.0" fill="#ef5350"/>
<line x1="560.34" y1="362.0" x2="560.34" y2="371.0" stroke="#26a69a" stroke-width="1.1"/>
<rect x="559.24" y="364.0" width="2.2" height="3.0" fill="#26a69a"/>
<line x1="562.61" y1="360.0" x2="562.61" y2="368.0" stroke="#ef5350" stroke-width="1.1"/>
<rect x="561.51" y="363.0" width="2.2" height="3.0" fill="#ef5350"/>
<line x1="564.88" y1="362.0" x2="564.88" y2="369.0" stroke="#ef5350" stroke-width="1.1"/>
<rect x="563.78" y="364.0" width="2.2" height="3.0" fill="#ef5350"/>
<line x1="567.15" y1="357.0" x2="567.15" y2="370.0" stroke="#ef5350" stroke-width="1.1"/>
<rect x="566.05" y="365.0" width="2.2" height="3.0" fill="#ef5350"/>
<line x1="569.42" y1="365.0" x2="569.42" y2="396.0" stroke="#ef5350" stroke-width="1.1"/>
<rect x="568.32" y="367.0" width="2.2" height="14.0" fill="#ef5350"/>
<line x1="571.69" y1="368.0" x2="571.69" y2="395.0" stroke="#26a69a" stroke-width="1.1"/>
<rect x="570.59" y="374.0" width="2.2" height="7.0" fill="#26a69a"/>
<line x1="573.96" y1="370.0" x2="573.96" y2="380.0" stroke="#26a69a" stroke-width="1.1"/>
<rect x="572.86" y="372.0" width="2.2" height="4.0" fill="#26a69a"/>
<line x1="576.23" y1="370.0" x2="576.23" y2="381.0" stroke="#ef5350" stroke-width="1.1"/>
<rect x="575.13" y="372.0" width="2.2" height="7.0" fill="#ef5350"/>
<line x1="578.50" y1="343.0" x2="578.50" y2="381.0" stroke="#26a69a" stroke-width="1.1"/>
<rect x="577.40" y="351.0" width="2.2" height="29.0" fill="#26a69a"/>
<line x1="580.77" y1="340.0" x2="580.77" y2="364.0" stroke="#ef5350" stroke-width="1.1"/>
<rect x="579.67" y="351.0" width="2.2" height="11.0" fill="#ef5350"/>
<line x1="583.04" y1="345.0" x2="583.04" y2="363.0" stroke="#26a69a" stroke-width="1.1"/>
<rect x="581.94" y="349.0" width="2.2" height="12.0" fill="#26a69a"/>
<line x1="585.31" y1="347.0" x2="585.31" y2="360.0" stroke="#ef5350" stroke-width="1.1"/>
<rect x="584.21" y="348.0" width="2.2" height="2.0" fill="#ef5350"/>
<line x1="587.58" y1="331.0" x2="587.58" y2="351.0" stroke="#26a69a" stroke-width="1.1"/>
<rect x="586.48" y="340.0" width="2.2" height="10.0" fill="#26a69a"/>
<line x1="589.85" y1="335.0" x2="589.85" y2="344.0" stroke="#ef5350" stroke-width="1.1"/>
<rect x="588.75" y="340.0" width="2.2" height="2.0" fill="#ef5350"/>
<line x1="592.12" y1="339.0" x2="592.12" y2="389.0" stroke="#ef5350" stroke-width="1.1"/>
<rect x="591.02" y="341.0" width="2.2" height="41.0" fill="#ef5350"/>
<line x1="594.39" y1="361.0" x2="594.39" y2="396.0" stroke="#26a69a" stroke-width="1.1"/>
<rect x="593.29" y="370.0" width="2.2" height="12.0" fill="#26a69a"/>
<line x1="596.66" y1="363.0" x2="596.66" y2="381.0" stroke="#ef5350" stroke-width="1.1"/>
<rect x="595.56" y="370.0" width="2.2" height="9.0" fill="#ef5350"/>
<line x1="598.93" y1="338.0" x2="598.93" y2="380.0" stroke="#26a69a" stroke-width="1.1"/>
<rect x="597.83" y="341.0" width="2.2" height="38.0" fill="#26a69a"/>
<line x1="601.20" y1="336.0" x2="601.20" y2="356.0" stroke="#ef5350" stroke-width="1.1"/>
<rect x="600.10" y="341.0" width="2.2" height="9.0" fill="#ef5350"/>
<line x1="603.47" y1="341.0" x2="603.47" y2="359.0" stroke="#26a69a" stroke-width="1.1"/>
<rect x="602.37" y="347.0" width="2.2" height="4.0" fill="#26a69a"/>
<line x1="605.74" y1="341.0" x2="605.74" y2="374.0" stroke="#ef5350" stroke-width="1.1"/>
<rect x="604.64" y="347.0" width="2.2" height="11.0" fill="#ef5350"/>
<line x1="608.01" y1="347.0" x2="608.01" y2="364.0" stroke="#26a69a" stroke-width="1.1"/>
<rect x="606.91" y="352.0" width="2.2" height="7.0" fill="#26a69a"/>
<line x1="610.28" y1="347.0" x2="610.28" y2="370.0" stroke="#ef5350" stroke-width="1.1"/>
<rect x="609.18" y="352.0" width="2.2" height="14.0" fill="#ef5350"/>
<line x1="612.55" y1="353.0" x2="612.55" y2="368.0" stroke="#ef5350" stroke-width="1.1"/>
<rect x="611.45" y="364.0" width="2.2" height="2.0" fill="#ef5350"/>
<line x1="614.82" y1="358.0" x2="614.82" y2="379.0" stroke="#ef5350" stroke-width="1.1"/>
<rect x="613.72" y="366.0" width="2.2" height="7.0" fill="#ef5350"/>
<line x1="617.09" y1="365.0" x2="617.09" y2="378.0" stroke="#26a69a" stroke-width="1.1"/>
<rect x="615.99" y="367.0" width="2.2" height="6.0" fill="#26a69a"/>
</g>
<text x="15.2" y="37.8" font-size="11" fill="#5d606b" font-weight="normal" textLength="30.6" lengthAdjust="spacingAndGlyphs">Bitcoin</text>
<text x="51.9" y="37.8" font-size="11" fill="#5d606b" font-weight="normal" textLength="3.1" lengthAdjust="spacingAndGlyphs">/</text>
<text x="58.3" y="37.8" font-size="11" fill="#5d606b" font-weight="normal" textLength="42.2" lengthAdjust="spacingAndGlyphs">TetherUS,</text>
<text x="104" y="37.8" font-size="11" fill="#5d606b" font-weight="normal" textLength="12.8" lengthAdjust="spacingAndGlyphs">4h,</text>
<text x="121.9" y="37.8" font-size="11" fill="#5d606b" font-weight="normal" textLength="37.2" lengthAdjust="spacingAndGlyphs">BINANCE</text>
<text x="166.9" y="37.8" font-size="11" fill="#26a69a" font-weight="normal" textLength="28.4" lengthAdjust="spacingAndGlyphs">+86.62</text>
<text x="199.9" y="37.8" font-size="11" fill="#26a69a" font-weight="normal" textLength="36.7" lengthAdjust="spacingAndGlyphs">(+0.44%)</text>
<line x1="9" y1="258.7" x2="838" y2="258.7" stroke="#1b5e20" stroke-width="1.8"/>
<line x1="9" y1="323.8" x2="838" y2="323.8" stroke="#1b5e20" stroke-width="1.8"/>
<line x1="9" y1="379.9" x2="838" y2="379.9" stroke="#1b5e20" stroke-width="1.8"/>
<line x1="22" y1="90.5" x2="176.3" y2="287.5" stroke="#000" stroke-width="1.9"/>
<line x1="22" y1="189" x2="176" y2="386" stroke="#000" stroke-width="1.9"/>
<line x1="117.3" y1="326.4" x2="240" y2="215" stroke="#721b4c" stroke-dasharray="1.2 1.3" stroke-width="1.05"/>
<line x1="171.6" y1="73.2" x2="380.9" y2="43.5" stroke="#721b4c" stroke-dasharray="1.2 1.3" stroke-width="1.05"/>
<line x1="240" y1="215" x2="546.6" y2="380" stroke="#721b4c" stroke-dasharray="1.2 1.3" stroke-width="1.05"/>
<line x1="117.3" y1="326.4" x2="546.6" y2="380" stroke="#721b4c" stroke-dasharray="1.2 1.3" stroke-width="1.05"/>
<polyline points="117.3,326.4 171.6,73.2 240,215 380.9,43.5 546.6,380" fill="none" stroke="#721b4c" stroke-width="1.85" stroke-linejoin="miter"/>
<line x1="8.5" y1="313" x2="98" y2="417" stroke="#0a0aff" stroke-width="2"/>
<line x1="380.6" y1="46.2" x2="648.7" y2="394.7" stroke="#0a0aff" stroke-width="2"/>
<line x1="606.4" y1="22.5" x2="803.1" y2="155" stroke="#3a3aff" stroke-width="1.1"/>
<line x1="473.8" y1="254.2" x2="553.3" y2="264.2" stroke="#0a0aff" stroke-width="1.5"/>
<line x1="460.3" y1="318.3" x2="555.3" y2="291" stroke="#0a0aff" stroke-width="1.5"/>
<line x1="20" y1="258.5" x2="8.5" y2="281" stroke="#5555ff" stroke-width="0.9"/>
<rect x="165.1" y="53.5" width="13.2" height="16.5" rx="2.5" fill="#721b4c"/>
<text x="171.7" y="65.3" font-size="10" font-weight="bold" fill="#fff" text-anchor="middle">A</text>
<rect x="232.8" y="219.4" width="13.1" height="16.3" rx="2.5" fill="#721b4c"/>
<text x="239.4" y="231.2" font-size="10" font-weight="bold" fill="#fff" text-anchor="middle">B</text>
<rect x="374.1" y="22.8" width="13.1" height="15.4" rx="2.5" fill="#721b4c"/>
<text x="380.6" y="34.1" font-size="10" font-weight="bold" fill="#fff" text-anchor="middle">C</text>
<rect x="539.9" y="385.1" width="13" height="16.3" rx="2.5" fill="#721b4c"/>
<text x="546.4" y="396.8" font-size="10" font-weight="bold" fill="#fff" text-anchor="middle">D</text>
<rect x="110.3" y="330.8" width="13" height="16.3" rx="2.5" fill="#721b4c"/>
<text x="116.8" y="342.5" font-size="10" font-weight="bold" fill="#fff" text-anchor="middle">X</text>
<rect x="260.6" y="50.1" width="31.6" height="16.3" rx="2.5" fill="#721b4c"/>
<text x="276.4" y="62.1" font-size="11" font-weight="bold" fill="#fff" text-anchor="middle" textLength="25" lengthAdjust="spacingAndGlyphs">1.223</text>
<rect x="162.8" y="262.2" width="31.6" height="16.3" rx="2.5" fill="#721b4c"/>
<text x="178.6" y="274.3" font-size="11" font-weight="bold" fill="#fff" text-anchor="middle" textLength="25" lengthAdjust="spacingAndGlyphs">0.559</text>
<rect x="377.5" y="289.4" width="31.6" height="16.3" rx="2.5" fill="#721b4c"/>
<text x="393.3" y="301.4" font-size="11" font-weight="bold" fill="#fff" text-anchor="middle" textLength="25" lengthAdjust="spacingAndGlyphs">1.962</text>
<rect x="316.2" y="344.9" width="31.6" height="16.3" rx="2.5" fill="#721b4c"/>
<text x="332.0" y="356.9" font-size="11" font-weight="bold" fill="#fff" text-anchor="middle" textLength="25" lengthAdjust="spacingAndGlyphs">1.216</text>
<line x1="838.5" y1="22.5" x2="838.5" y2="440.5" stroke="#555" stroke-width="1"/>
<line x1="8.5" y1="417.5" x2="891.5" y2="417.5" stroke="#666" stroke-width="1.1"/>
<text x="847" y="46.3" font-size="10" fill="#555a60" font-weight="normal" opacity="0.5" textLength="37" lengthAdjust="spacingAndGlyphs">25200.00</text>
<text x="847" y="71.8" font-size="10" fill="#555a60" font-weight="normal" opacity="1" textLength="37" lengthAdjust="spacingAndGlyphs">24800.00</text>
<text x="847" y="96.7" font-size="10" fill="#555a60" font-weight="normal" opacity="1" textLength="37" lengthAdjust="spacingAndGlyphs">24400.00</text>
<text x="847" y="121.6" font-size="10" fill="#555a60" font-weight="normal" opacity="1" textLength="37" lengthAdjust="spacingAndGlyphs">24000.00</text>
<text x="847" y="146.6" font-size="10" fill="#555a60" font-weight="normal" opacity="1" textLength="37" lengthAdjust="spacingAndGlyphs">23600.00</text>
<text x="847" y="171.5" font-size="10" fill="#555a60" font-weight="normal" opacity="1" textLength="37" lengthAdjust="spacingAndGlyphs">23200.00</text>
<text x="847" y="196.4" font-size="10" fill="#555a60" font-weight="normal" opacity="1" textLength="37" lengthAdjust="spacingAndGlyphs">22800.00</text>
<text x="847" y="221.3" font-size="10" fill="#555a60" font-weight="normal" opacity="1" textLength="37" lengthAdjust="spacingAndGlyphs">22400.00</text>
<text x="847" y="246.2" font-size="10" fill="#555a60" font-weight="normal" opacity="1" textLength="37" lengthAdjust="spacingAndGlyphs">22000.00</text>
<text x="847" y="271.2" font-size="10" fill="#555a60" font-weight="normal" opacity="1" textLength="37" lengthAdjust="spacingAndGlyphs">21600.00</text>
<text x="847" y="296.1" font-size="10" fill="#555a60" font-weight="normal" opacity="1" textLength="37" lengthAdjust="spacingAndGlyphs">21200.00</text>
<text x="847" y="321.0" font-size="10" fill="#555a60" font-weight="normal" opacity="1" textLength="37" lengthAdjust="spacingAndGlyphs">20800.00</text>
<text x="847" y="345.9" font-size="10" fill="#555a60" font-weight="normal" opacity="1" textLength="37" lengthAdjust="spacingAndGlyphs">20400.00</text>
<text x="847" y="370.8" font-size="10" fill="#555a60" font-weight="normal" opacity="1" textLength="37" lengthAdjust="spacingAndGlyphs">20000.00</text>
<text x="847" y="395.8" font-size="10" fill="#555a60" font-weight="normal" opacity="1" textLength="37" lengthAdjust="spacingAndGlyphs">19600.00</text>
<rect x="839.5" y="23" width="51" height="18.6" fill="#fff"/>
<text x="847" y="36.8" font-size="9.3" fill="#555a60" textLength="21.3" lengthAdjust="spacingAndGlyphs">USDT</text>
<rect x="838.5" y="251.9" width="49.5" height="14" rx="1.5" fill="#1b5e20"/>
<text x="847" y="262.4" font-size="10" fill="#fff" font-weight="bold" opacity="1" textLength="37" lengthAdjust="spacingAndGlyphs">21740.76</text>
<rect x="838.5" y="316.9" width="49.5" height="14" rx="1.5" fill="#1b5e20"/>
<text x="847" y="327.4" font-size="10" fill="#fff" font-weight="bold" opacity="1" textLength="37" lengthAdjust="spacingAndGlyphs">20696.32</text>
<rect x="838.5" y="361.2" width="49.5" height="14" rx="1.5" fill="#26a69a"/>
<text x="847" y="371.7" font-size="10" fill="#fff" font-weight="bold" opacity="1" textLength="37" lengthAdjust="spacingAndGlyphs">19982.28</text>
<rect x="791.7" y="361.3" width="45.6" height="14.3" rx="1.5" fill="#26a69a"/>
<text x="795.5" y="371.7" font-size="10" fill="#fff" font-weight="bold" textLength="37" lengthAdjust="spacingAndGlyphs">BTCUSDT</text>
<rect x="838.5" y="374.1" width="49.5" height="14" rx="1.5" fill="#1b5e20"/>
<text x="847" y="384.6" font-size="10" fill="#fff" font-weight="bold" opacity="1" textLength="37" lengthAdjust="spacingAndGlyphs">19796.45</text>
<text x="94.2" y="431.7" font-size="9.6" fill="#555a60" text-anchor="middle" textLength="10.2" lengthAdjust="spacingAndGlyphs">25</text>
<text x="189.7" y="431.7" font-size="9.6" fill="#555a60" text-anchor="middle" textLength="16.2" lengthAdjust="spacingAndGlyphs">Aug</text>
<text x="285" y="431.7" font-size="9.6" fill="#555a60" text-anchor="middle" textLength="4.6" lengthAdjust="spacingAndGlyphs">8</text>
<text x="380.5" y="431.7" font-size="9.6" fill="#555a60" text-anchor="middle" textLength="10.2" lengthAdjust="spacingAndGlyphs">15</text>
<text x="476" y="431.7" font-size="9.6" fill="#555a60" text-anchor="middle" textLength="10.2" lengthAdjust="spacingAndGlyphs">22</text>
<text x="543.8" y="431.7" font-size="9.6" fill="#555a60" text-anchor="middle" textLength="10.2" lengthAdjust="spacingAndGlyphs">27</text>
<text x="612.1" y="431.7" font-size="9.6" fill="#555a60" text-anchor="middle" textLength="15.2" lengthAdjust="spacingAndGlyphs">Sep</text>
<text x="680.5" y="431.7" font-size="9.6" fill="#555a60" text-anchor="middle" textLength="4.6" lengthAdjust="spacingAndGlyphs">6</text>
<text x="762" y="431.7" font-size="9.6" fill="#555a60" text-anchor="middle" textLength="10.2" lengthAdjust="spacingAndGlyphs">12</text>
<g fill="#1e222d"><path d="M8.2 451h6.5v7.8h-3.2v-5.1h-3.3z"/><circle cx="17.4" cy="452.5" r="1.45"/><path d="M20.9 451h3.5l-2.9 7.8h-3.7z"/></g>
<text x="27.8" y="458.7" font-size="10.5" fill="#3a3e49" textLength="58.5" lengthAdjust="spacingAndGlyphs">TradingView</text>
</svg>
</body></html>
